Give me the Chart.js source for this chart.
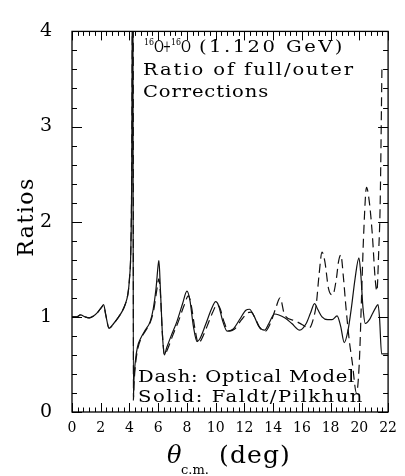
<!DOCTYPE html>
<html>
<head>
<meta charset="utf-8">
<script src="https://cdn.jsdelivr.net/npm/chart.js@4.4.1/dist/chart.umd.min.js"></script>
<style>
html, body { margin: 0; padding: 0; background: #fff; }
#wrap { width: 405px; height: 476px; }
</style>
</head>
<body>
<div id="wrap"><canvas id="ratioChart" width="405" height="476"></canvas></div>
<script>
// Solid: Faldt/Pilkhun
const thetaSolid = [0.0, 0.3, 0.6, 0.9, 1.2, 1.5, 1.8, 2.05, 2.2, 2.35, 2.58, 2.9, 3.2, 3.5, 3.7, 3.88, 4.0, 4.1, 4.16, 4.2, 4.23,
  4.27, 4.3, 4.4, 4.55, 4.8, 5.1, 5.44, 5.65, 5.85, 6.0, 6.05, 6.15, 6.3, 6.42, 6.6, 6.9, 7.3, 7.7, 8.0, 8.2, 8.45, 8.7, 8.9,
  9.3, 9.7, 10.0, 10.2, 10.5, 10.8, 11.2, 11.7, 12.1, 12.35, 12.7, 13.0, 13.4, 13.7, 14.1, 14.4, 14.8, 15.3, 15.85, 16.3, 16.6,
  16.88, 17.1, 17.4, 17.8, 18.1, 18.45, 18.7, 18.95, 19.2, 19.45, 19.7, 19.97, 20.1, 20.25, 20.42, 20.7, 20.9, 21.15, 21.3,
  21.4, 21.55, 21.8, 22.0];
const ratioSolid = [1.0, 1.0, 1.02, 1.0, 0.99, 1.01, 1.05, 1.1, 1.13, 1.02, 0.88, 0.93, 0.99, 1.06, 1.13, 1.23, 1.4, 1.75, 2.6, 4.6, 6.0,
  0.12, 0.3, 0.52, 0.68, 0.78, 0.86, 0.95, 1.08, 1.3, 1.55, 1.59, 1.3, 0.8, 0.6, 0.68, 0.8, 0.95, 1.14, 1.27, 1.18, 0.9, 0.74, 0.77,
  0.92, 1.08, 1.16, 1.12, 0.95, 0.85, 0.87, 0.98, 1.07, 1.08, 1.0, 0.9, 0.86, 0.93, 1.03, 1.02, 0.99, 0.93, 0.86, 0.93, 1.04,
  1.14, 1.08, 1.0, 0.97, 0.97, 1.01, 0.9, 0.73, 0.85, 1.1, 1.4, 1.62, 1.45, 1.1, 0.93, 0.97, 1.03, 1.1, 1.13,
  1.0, 0.61, 0.61, 0.61];

// Dash: Optical Model
const thetaDash = [0.0, 0.3, 0.6, 0.9, 1.2, 1.5, 1.8, 2.05, 2.2, 2.35, 2.58, 2.9, 3.2, 3.5, 3.7, 3.88, 4.0, 4.1, 4.16, 4.21, 4.25,
  4.28, 4.32, 4.42, 4.57, 4.8, 5.1, 5.44, 5.7, 5.9, 6.05, 6.15, 6.3, 6.45, 6.65, 7.0, 7.4, 7.8, 8.1, 8.3, 8.55, 8.8, 9.0,
  9.4, 9.8, 10.1, 10.3, 10.6, 10.9, 11.3, 11.8, 12.2, 12.45, 12.8, 13.1, 13.45, 13.8, 14.2, 14.48, 14.8, 15.5, 16.0, 16.5,
  16.8, 17.0, 17.2, 17.4, 17.6, 17.85, 18.14, 18.4, 18.55, 18.71, 18.9, 19.05, 19.3, 19.5, 19.8, 20.0, 20.15, 20.3, 20.5,
  20.7, 20.9, 21.1, 21.22, 21.35, 21.45, 21.57];
const ratioDash = [1.0, 1.0, 1.02, 1.0, 0.99, 1.01, 1.05, 1.1, 1.12, 1.02, 0.88, 0.93, 0.99, 1.06, 1.13, 1.23, 1.4, 1.75, 2.6, 4.6, 6.0,
  0.14, 0.3, 0.5, 0.66, 0.77, 0.85, 0.94, 1.08, 1.28, 1.4, 1.25, 0.8, 0.6, 0.66, 0.8, 0.95, 1.12, 1.22, 1.12, 0.88, 0.72, 0.76,
  0.9, 1.05, 1.13, 1.09, 0.94, 0.85, 0.87, 0.97, 1.04, 1.05, 0.97, 0.88, 0.85, 0.93, 1.1, 1.2, 1.02, 0.96, 0.92, 0.88,
  0.98, 1.13, 1.45, 1.68, 1.58, 1.3, 1.23, 1.4, 1.58, 1.65, 1.4, 1.13, 0.75, 0.53, 0.2, 0.53, 1.2, 1.87, 2.36,
  2.2, 1.87, 1.4, 1.27, 1.7, 2.2, 3.6];

const xTicks = [0, 2, 4, 6, 8, 10, 12, 14, 16, 18, 20, 22];
const yTicks = [0, 1, 2, 3, 4];

const serif = '"DejaVu Serif", serif';

function pontos(xs, ys) {
  return xs.map((v, i) => ({ x: v, y: ys[i] }));
}

// escreve um texto um pouco alargado e com espaço entre letras até a largura pedida
function textoLargo(ctx, t, x, y, largura, esticar = 1.15) {
  ctx.letterSpacing = '0px';
  const w = ctx.measureText(t).width;
  const esp = (largura / esticar - w) / t.length;
  ctx.save();
  ctx.translate(x, y);
  ctx.scale(esticar, 1);
  ctx.letterSpacing = esp.toFixed(2) + 'px';
  ctx.fillText(t, 0, 0);
  ctx.restore();
  ctx.letterSpacing = '0px';
}

// escreve um texto curto ajustado na horizontal até a largura pedida
function textoEscala(ctx, t, x, y, largura) {
  const w = ctx.measureText(t).width;
  ctx.save();
  ctx.translate(x, y);
  ctx.scale(largura / w, 1);
  ctx.fillText(t, 0, 0);
  ctx.restore();
}

// moldura, marcas internas e textos
const molduraPlugin = {
  id: 'moldura',
  afterDraw(chart) {
    const { ctx, chartArea: a, scales: { x, y } } = chart;
    ctx.save();
    ctx.strokeStyle = '#000';
    ctx.lineWidth = 1.3;
    ctx.strokeRect(a.left, a.top, a.right - a.left, a.bottom - a.top);

    ctx.lineWidth = 1;
    ctx.beginPath();
    for (let i = 0; i <= 55; i++) {
      const px = Math.round(x.getPixelForValue(i * 0.4)) + 0.5;
      const len = i % 5 === 0 ? 9 : 4.5;
      ctx.moveTo(px, a.bottom); ctx.lineTo(px, a.bottom - len);
      ctx.moveTo(px, a.top); ctx.lineTo(px, a.top + len);
    }
    for (let i = 0; i <= 20; i++) {
      const py = Math.round(y.getPixelForValue(i * 0.2)) + 0.5;
      const len = i % 5 === 0 ? 10 : 5;
      ctx.moveTo(a.left, py); ctx.lineTo(a.left + len, py);
      ctx.moveTo(a.right, py); ctx.lineTo(a.right - len, py);
    }
    ctx.stroke();

    ctx.fillStyle = '#000';
    ctx.textBaseline = 'alphabetic';
    ctx.textAlign = 'left';

    // titulo do grafico com sobrescritos
    const big = '17px ' + serif;
    ctx.font = '10px ' + serif;
    textoEscala(ctx, '16', 144, 45, 10);
    textoEscala(ctx, '16', 171, 45, 10);
    ctx.font = big;
    textoEscala(ctx, 'O', 154, 52, 10);
    textoEscala(ctx, '+', 163, 52, 8);
    textoEscala(ctx, 'O', 181, 52, 10);
    textoLargo(ctx, '(1.120 GeV)', 199, 52, 146);
    textoLargo(ctx, 'Ratio of full/outer', 143, 75, 212);
    textoLargo(ctx, 'Corrections', 143, 97, 126);
    textoLargo(ctx, 'Dash: Optical Model', 138, 382, 217);
    textoLargo(ctx, 'Solid: Faldt/Pilkhun', 138, 402, 226);

    // titulo do eixo x
    ctx.font = 'italic 24px ' + serif;
    ctx.fillText('\u03b8', 167, 463);
    ctx.font = '13px ' + serif;
    ctx.fillText('c.m.', 181, 474);
    ctx.font = '25px ' + serif;
    textoLargo(ctx, '(deg)', 219, 463, 72, 1);

    // titulo do eixo y
    ctx.translate(33, 217);
    ctx.rotate(-Math.PI / 2);
    ctx.textAlign = 'center';
    ctx.font = '22px ' + serif;
    ctx.letterSpacing = '1.5px';
    ctx.fillText('Ratios', 0, 0);
    ctx.restore();
  }
};

const ctx = document.getElementById('ratioChart');
new Chart(ctx, {
  type: 'line',
  data: {
    datasets: [
      {
        label: 'Solid: Faldt/Pilkhun',
        data: pontos(thetaSolid, ratioSolid),
        borderColor: '#111',
        borderWidth: 1.2,
        pointRadius: 0,
        cubicInterpolationMode: 'monotone',
        fill: false
      },
      {
        label: 'Dash: Optical Model',
        data: pontos(thetaDash, ratioDash),
        borderColor: '#111',
        borderWidth: 1.2,
        borderDash: [9, 5],
        pointRadius: 0,
        cubicInterpolationMode: 'monotone',
        fill: false
      }
    ]
  },
  options: {
    responsive: false,
    animation: false,
    devicePixelRatio: 1,
    layout: { padding: { top: 16, right: 12, bottom: 0, left: 0 } },
    plugins: {
      legend: { display: false },
      tooltip: { enabled: false }
    },
    scales: {
      x: {
        type: 'linear',
        min: 0,
        max: 22,
        afterBuildTicks: s => { s.ticks = xTicks.map(v => ({ value: v })); },
        afterFit: s => { s.height = 64; },
        grid: { display: false, drawTicks: false },
        border: { display: false },
        ticks: { color: '#000', font: { family: serif, size: 14 }, padding: 8, maxRotation: 0, autoSkip: false }
      },
      y: {
        type: 'linear',
        min: 0,
        max: 4,
        afterBuildTicks: s => { s.ticks = yTicks.map(v => ({ value: v })); },
        afterFit: s => { s.width = 72; },
        grid: { display: false, drawTicks: false },
        border: { display: false },
        ticks: { color: '#000', font: { family: serif, size: 19 }, padding: 20 }
      }
    }
  },
  plugins: [molduraPlugin]
});
</script>
</body>
</html>
